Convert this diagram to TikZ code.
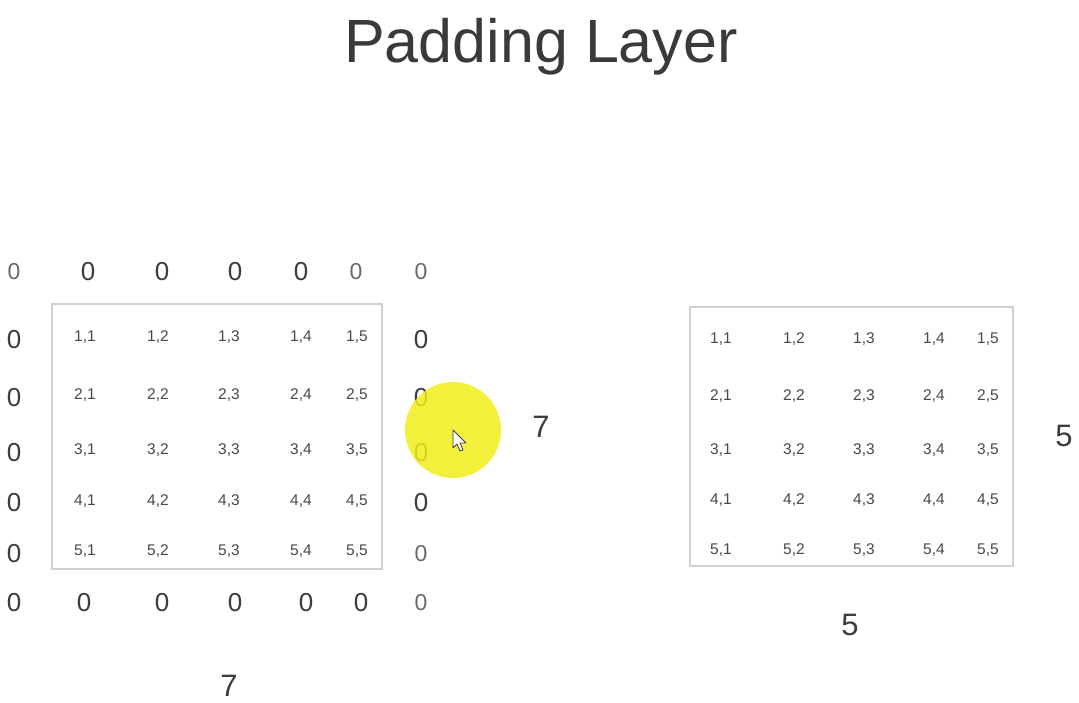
\documentclass[tikz,border=0pt]{standalone}
\usepackage{fontspec}
\setmainfont{Liberation Sans}
\definecolor{titlec}{HTML}{3A3A3A}
\definecolor{zeroc}{HTML}{3C3C3C}
\definecolor{zerol}{HTML}{6A6A6A}
\definecolor{cellc}{HTML}{484848}
\definecolor{boxc}{HTML}{CFCFCF}
\definecolor{hl}{HTML}{F2EE1A}
\tikzset{
  zero/.style={text=zeroc, font=\fontsize{26}{26}\selectfont, inner sep=0pt},
  zerolight/.style={zero, text=zerol, font=\fontsize{23}{23}\selectfont},
  cell/.style={text=cellc, font=\fontsize{15.5}{15.5}\selectfont, inner sep=0pt},
  dim/.style={text=zeroc, font=\fontsize{31}{31}\selectfont, inner sep=0pt},
  gridbox/.style={draw=boxc, line width=1.6pt},
}
\begin{document}
\begin{tikzpicture}[x=1pt,y=-1pt]
\useasboundingbox[fill=white] (0,0) rectangle (1079,703);
\node[text=titlec, font=\fontsize{61}{61}\selectfont, inner sep=0pt] (title) at (541,47) {Padding Layer};
% left padded grid
\draw[gridbox] (52,304) rectangle (382,569);
\foreach \x [count=\j] in {85,158,229,301,357}{
  \foreach \y [count=\i] in {337,395,450,501,551}{
    \node[cell] (L\i\j) at (\x,\y) {\i,\j};
  }
}
% zero padding
\node[zerolight] (zt1) at (14,272) {0};
\node[zero] (zt2) at (88,272) {0};
\node[zero] (zt3) at (162,272) {0};
\node[zero] (zt4) at (235,272) {0};
\node[zero] (zt5) at (301,272) {0};
\node[zerolight] (zt6) at (356,272) {0};
\node[zerolight] (zt7) at (421,272) {0};
\node[zero] (zb1) at (14,603) {0};
\node[zero] (zb2) at (84,603) {0};
\node[zero] (zb3) at (162,603) {0};
\node[zero] (zb4) at (235,603) {0};
\node[zero] (zb5) at (306,603) {0};
\node[zero] (zb6) at (361,603) {0};
\node[zerolight] (zb7) at (421,603) {0};
\foreach \y [count=\i] in {340,398,453,503,554}{
  \node[zero] (zl\i) at (14,\y) {0};
}
\node[zero] (zr1) at (421,340) {0};
\node[zero] (zr2) at (421,398) {0};
\node[zero] (zr3) at (421,453) {0};
\node[zero] (zr4) at (421,503) {0};
\node[zerolight] (zr5) at (421,554) {0};
% highlight and cursor
\fill[hl, opacity=0.85] (453,430) circle (48);
\draw[fill=white, draw=black!75, line width=0.8pt, line join=round]
  (453,430) -- (453,448) -- (457,444) -- (460,451) -- (463,450) -- (460,443) -- (466,443) -- cycle;
\node[dim] (h7) at (541,427) {7};
\node[dim] (w7) at (229,686) {7};
% right grid
\draw[gridbox] (690,307) rectangle (1013,566);
\foreach \x [count=\j] in {721,794,864,934,988}{
  \foreach \y [count=\i] in {339,396,450,500,550}{
    \node[cell] (R\i\j) at (\x,\y) {\i,\j};
  }
}
\node[dim] (h5) at (1064,436) {5};
\node[dim] (w5) at (850,625) {5};
\end{tikzpicture}
\end{document}
